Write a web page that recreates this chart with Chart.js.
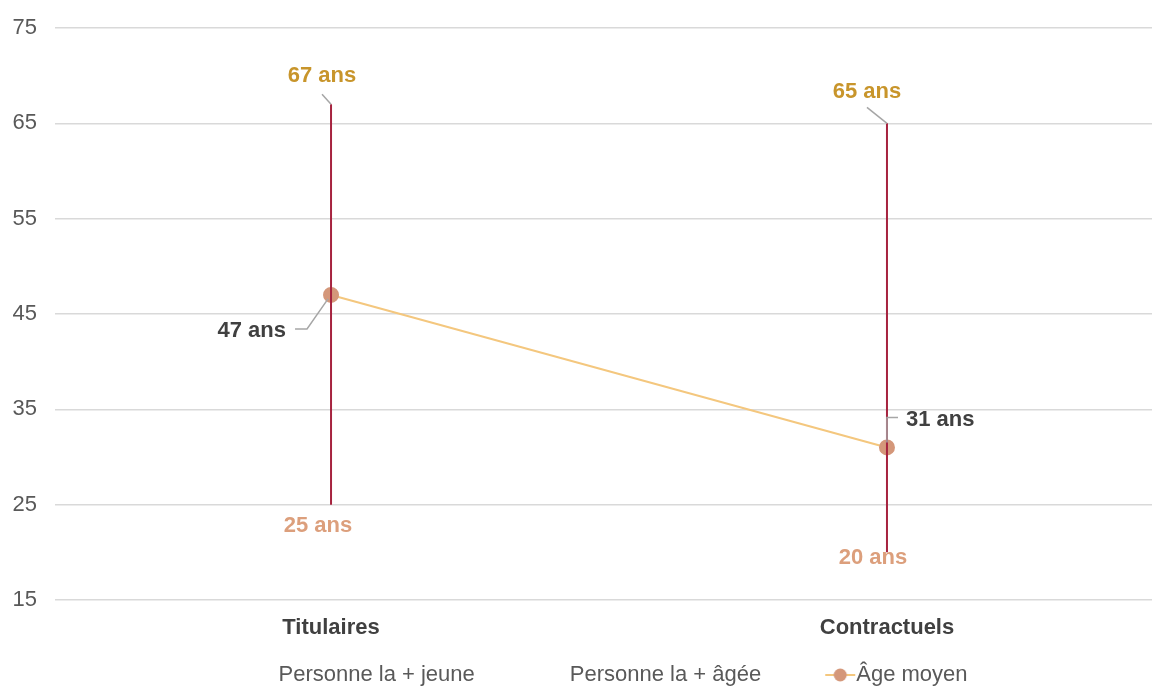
<!DOCTYPE html>
<html>
<head>
<meta charset="utf-8">
<script src="https://cdn.jsdelivr.net/npm/chart.js@4"></script>
<style>
  html, body { margin: 0; padding: 0; background: #fff; overflow: hidden; }
  #wrap { width: 1161px; height: 686px; }
</style>
</head>
<body>
<div id="wrap"><canvas id="ageChart"></canvas></div>
<script>
const categories = ['Titulaires', 'Contractuels'];
const minAges = [25, 20];   // Personne la + jeune
const maxAges = [67, 65];   // Personne la + âgée
const meanAges = [47, 31];  // Âge moyen
const yMin = 15, yMax = 75, yStep = 10;

const FONT = '"Liberation Sans", Arial, sans-serif';
const LINE_COLOR = '#f4c77e';
const MARKER_COLOR = '#d4977a';
const HILO_COLOR = '#a6233f';
const LEADER_COLOR = '#a6a6a6';

// label placement relative to the mark (dx, dy) - styling only
const maxLabelPos = [[-9, -28], [-20, -31]];
const minLabelPos = [[-13, 21], [-14, 6]];

function legendMarker(show) {  // little line+dot picture used as legend point style
    const c = document.createElement('canvas');
    c.width = 98; c.height = 16;
    if (show) {
        const g = c.getContext('2d');
        g.strokeStyle = LINE_COLOR; g.lineWidth = 2;
        g.beginPath(); g.moveTo(66, 8); g.lineTo(96, 8); g.stroke();
        g.fillStyle = MARKER_COLOR;
        g.beginPath(); g.arc(81, 8, 6.5, 0, Math.PI * 2); g.fill();
    }
    return c;
}

const hiLoAndLabels = {
    id: 'hiLoAndLabels',
    afterDatasetsDraw(chart) {
        const ctx = chart.ctx;
        const x = chart.scales.x, y = chart.scales.y;
        ctx.save();
        // high-low lines
        ctx.strokeStyle = HILO_COLOR;
        ctx.lineWidth = 2;
        categories.forEach((c, i) => {
            const px = x.getPixelForValue(i);
            ctx.beginPath();
            ctx.moveTo(px, y.getPixelForValue(minAges[i]));
            ctx.lineTo(px, y.getPixelForValue(maxAges[i]));
            ctx.stroke();
        });

        // leader lines
        ctx.strokeStyle = LEADER_COLOR;
        ctx.lineWidth = 1.5;
        const line = pts => { ctx.beginPath(); ctx.moveTo(pts[0][0], pts[0][1]); pts.slice(1).forEach(p => ctx.lineTo(p[0], p[1])); ctx.stroke(); };
        let px = x.getPixelForValue(0), top = y.getPixelForValue(maxAges[0]);
        line([[px, top], [px - 9, top - 10]]);
        px = x.getPixelForValue(1); top = y.getPixelForValue(maxAges[1]);
        line([[px, top], [px - 20, top - 16]]);
        px = x.getPixelForValue(0); let my = y.getPixelForValue(meanAges[0]);
        line([[px - 3, my + 4], [px - 24, my + 34], [px - 36, my + 34]]);
        px = x.getPixelForValue(1); my = y.getPixelForValue(meanAges[1]);
        line([[px, my - 5], [px, my - 30], [px + 11, my - 30]]);

        // data labels
        ctx.font = 'bold 22px ' + FONT;
        ctx.textBaseline = 'middle';
        ctx.textAlign = 'center';
        categories.forEach((c, i) => {
            const cx = x.getPixelForValue(i);
            ctx.fillStyle = '#c8952b';
            ctx.fillText(maxAges[i] + ' ans', cx + maxLabelPos[i][0], y.getPixelForValue(maxAges[i]) + maxLabelPos[i][1]);
            ctx.fillStyle = '#dc9f7c';
            ctx.fillText(minAges[i] + ' ans', cx + minLabelPos[i][0], y.getPixelForValue(minAges[i]) + minLabelPos[i][1]);
        });
        ctx.fillStyle = '#404040';
        ctx.textAlign = 'right';
        ctx.fillText(meanAges[0] + ' ans', x.getPixelForValue(0) - 45, y.getPixelForValue(meanAges[0]) + 36);
        ctx.textAlign = 'left';
        ctx.fillText(meanAges[1] + ' ans', x.getPixelForValue(1) + 19, y.getPixelForValue(meanAges[1]) - 28);
        ctx.restore();
    }
};

const ctx = document.getElementById('ageChart').getContext('2d');

const ageChart = new Chart(ctx, {
    type: 'line',
    data: {
        labels: categories.map((c, i) => i),
        datasets: [{
            label: 'Personne la + jeune',
            data: minAges,
            showLine: false,
            pointRadius: 0,
            pointHoverRadius: 0
        }, {
            label: 'Personne la + âgée',
            data: maxAges,
            showLine: false,
            pointRadius: 0,
            pointHoverRadius: 0
        }, {
            label: 'Âge moyen',
            data: meanAges,
            borderColor: LINE_COLOR,
            borderWidth: 2,
            pointRadius: 7,
            pointBackgroundColor: MARKER_COLOR,
            pointBorderColor: MARKER_COLOR,
            tension: 0
        }]
    },
    options: {
        responsive: true,
        maintainAspectRatio: false,
        animation: false,
        layout: { padding: { top: 28, left: 0, right: 0, bottom: -10 } },
        plugins: {
            tooltip: { enabled: false },
            legend: {
                position: 'bottom',
                labels: {
                    usePointStyle: true,
                    pointStyleWidth: 74,
                    padding: 10,
                    color: '#595959',
                    font: { family: FONT, size: 22 },
                    generateLabels: chart => chart.data.datasets.map((ds, i) => ({
                        text: ds.label,
                        pointStyle: legendMarker(i === 2),
                        fillStyle: 'transparent',
                        strokeStyle: 'transparent',
                        lineWidth: 0,
                        hidden: false,
                        fontColor: '#595959',
                        datasetIndex: i
                    }))
                }
            }
        },
        scales: {
            x: {
                type: 'linear',
                min: -0.4965,   // plot area runs past the right edge in the original
                max: 1.4767,
                grid: { display: false, drawTicks: false },
                border: { display: false },
                ticks: {
                    stepSize: 1,
                    includeBounds: false,
                    color: '#404040',
                    padding: 15,
                    font: { family: FONT, size: 22, weight: 'bold' },
                    callback: v => categories[v]
                },
                afterFit: s => { s.height = 54; }
            },
            y: {
                min: yMin,
                max: yMax,
                grid: { color: '#d9d9d9', lineWidth: 1.5, drawTicks: false },
                border: { display: false },
                ticks: {
                    stepSize: yStep,
                    color: '#595959',
                    padding: 18,
                    font: { family: FONT, size: 22 }
                },
                afterFit: s => { s.width = 55; s.paddingTop = 0; s.paddingBottom = 0; }
            }
        }
    },
    plugins: [hiLoAndLabels]
});
</script>
</body>
</html>
